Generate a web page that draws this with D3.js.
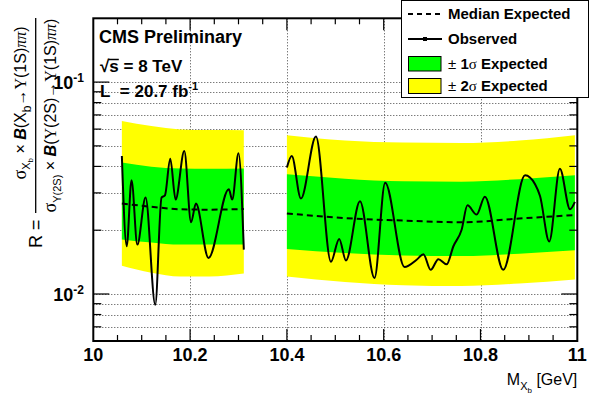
<!DOCTYPE html>
<html>
<head>
<meta charset="utf-8">
<script src="https://cdn.jsdelivr.net/npm/d3@7"></script>
<style>
body { margin: 0; background: #fff; }
svg { font-family: "Liberation Sans", Arial, Helvetica, sans-serif; }
</style>
</head>
<body>
<div id="chart"></div>
<script>
// ---- data ----
// expected bands, left mass window
const bandMassLeft = [10.059, 10.12, 10.18, 10.24, 10.311];
const yellowHiLeft = [0.0656, 0.0620, 0.0598, 0.0594, 0.0593];
const greenHiLeft  = [0.0417, 0.0399, 0.0391, 0.0390, 0.0391];
const medianLeft   = [0.0267, 0.0258, 0.0251, 0.0250, 0.0252];
const greenLoLeft  = [0.0181, 0.0175, 0.0171, 0.0171, 0.0171];
const yellowLoLeft = [0.0136, 0.0126, 0.0121, 0.0121, 0.0125];

// expected bands, right mass window
const bandMassRight = [10.400, 10.52, 10.64, 10.76, 10.88, 10.995];
const yellowHiRight = [0.0561, 0.0530, 0.0518, 0.0516, 0.0530, 0.0561];
const greenHiRight  = [0.0367, 0.0350, 0.0340, 0.0339, 0.0348, 0.0363];
const medianRight   = [0.0240, 0.0228, 0.0222, 0.0218, 0.0227, 0.0236];
const greenLoRight  = [0.0163, 0.0156, 0.0152, 0.0151, 0.0155, 0.0161];
const yellowLoRight = [0.0121, 0.0114, 0.0110, 0.0109, 0.0112, 0.0117];

// observed limit
const obsMassLeft = [10.059, 10.069, 10.079, 10.091, 10.108, 10.128, 10.141, 10.148, 10.159,
    10.170, 10.188, 10.202, 10.212, 10.238, 10.280, 10.287, 10.300, 10.311];
const obsLeft = [0.0448, 0.0168, 0.0344, 0.0171, 0.0285, 0.0089, 0.0285, 0.0292, 0.0435,
    0.0279, 0.0473, 0.0218, 0.0267, 0.0148, 0.0312, 0.0279, 0.0461, 0.0162];

const obsMassRight = [10.400, 10.410, 10.429, 10.460, 10.491, 10.508, 10.522, 10.551, 10.581,
    10.603, 10.643, 10.668, 10.682, 10.697, 10.713, 10.730, 10.744, 10.761, 10.773, 10.792,
    10.809, 10.847, 10.892, 10.913, 10.923, 10.942, 10.964, 10.985, 10.995];
const obsRight = [0.0395, 0.0448, 0.0282, 0.0553, 0.0142, 0.0182, 0.0144, 0.0274, 0.0119,
    0.0335, 0.0134, 0.0145, 0.0154, 0.0130, 0.0146, 0.0138, 0.0168, 0.0201, 0.0262, 0.0237,
    0.0288, 0.0130, 0.0363, 0.0329, 0.0290, 0.0177, 0.0390, 0.0251, 0.0272];

const xDomain = [10, 11];
const yDomain = [0.006, 0.2];
const legendItems = ["Median Expected", "Observed", "1", "2"];

// ---- drawing ----
const width = 589, height = 396;
const plot = { left: 93.3, right: 577.3, top: 18.3, bottom: 341 };

const svg = d3.select("#chart").append("svg")
    .attr("width", width)
    .attr("height", height);

const x = d3.scaleLinear().domain(xDomain).range([plot.left, plot.right]);
const y = d3.scaleLog().domain(yDomain).range([plot.bottom, plot.top]);

svg.append("defs").append("clipPath").attr("id", "plotclip")
    .append("rect")
    .attr("x", plot.left).attr("y", plot.top)
    .attr("width", plot.right - plot.left).attr("height", plot.bottom - plot.top);

// grid
const yGrid = y.ticks().filter(function (v) { return v > yDomain[0] * 1.01; });
const xMajor = x.ticks(5);
const xMinor = x.ticks(20);

const grid = svg.append("g").attr("stroke", "#444").attr("stroke-width", 1)
    .attr("stroke-dasharray", "1,2");
grid.selectAll(".gy").data(yGrid).enter().append("line")
    .attr("x1", plot.left).attr("x2", plot.right)
    .attr("y1", function (d) { return Math.round(y(d)) + 0.5; })
    .attr("y2", function (d) { return Math.round(y(d)) + 0.5; });
grid.selectAll(".gx").data(xMajor.slice(1, -1)).enter().append("line")
    .attr("y1", plot.top).attr("y2", plot.bottom)
    .attr("x1", function (d) { return Math.round(x(d)) + 0.5; })
    .attr("x2", function (d) { return Math.round(x(d)) + 0.5; });

// bands
function zip(m, lo, hi) {
    return m.map(function (v, i) { return { m: v, lo: lo[i], hi: hi[i] }; });
}
const area = d3.area()
    .x(function (d) { return x(d.m); })
    .y0(function (d) { return y(d.lo); })
    .y1(function (d) { return y(d.hi); })
    .curve(d3.curveMonotoneX);
const line = d3.line()
    .x(function (d) { return x(d.m); })
    .y(function (d) { return y(d.hi); })
    .curve(d3.curveMonotoneX);

const bands = svg.append("g").attr("clip-path", "url(#plotclip)");
[
    [bandMassLeft, yellowLoLeft, yellowHiLeft, greenLoLeft, greenHiLeft, medianLeft],
    [bandMassRight, yellowLoRight, yellowHiRight, greenLoRight, greenHiRight, medianRight]
].forEach(function (s) {
    bands.append("path").attr("d", area(zip(s[0], s[1], s[2]))).attr("fill", "#ffff00");
    bands.append("path").attr("d", area(zip(s[0], s[3], s[4]))).attr("fill", "#00ff00");
    bands.append("path").attr("d", line(zip(s[0], s[5], s[5])))
        .attr("fill", "none").attr("stroke", "#000").attr("stroke-width", 2)
        .attr("stroke-dasharray", "6,4");
});

[[obsMassLeft, obsLeft], [obsMassRight, obsRight]].forEach(function (s) {
    bands.append("path").attr("d", line(zip(s[0], s[1], s[1])))
        .attr("fill", "none").attr("stroke", "#000").attr("stroke-width", 2)
        .attr("stroke-linejoin", "round");
});

// frame and ticks
const axes = svg.append("g").attr("stroke", "#000");
axes.append("rect")
    .attr("x", plot.left).attr("y", plot.top)
    .attr("width", plot.right - plot.left).attr("height", plot.bottom - plot.top)
    .attr("fill", "none").attr("stroke-width", 2);

function isDecade(v) { return Math.abs(Math.log10(v) - Math.round(Math.log10(v))) < 1e-6; }
const yTicks = y.ticks().filter(function (v) { return v > yDomain[0] * 1.01 && v < yDomain[1] * 0.99; });
axes.selectAll(".tyl").data(yTicks).enter().append("line")
    .attr("x1", plot.left).attr("x2", function (d) { return plot.left + (isDecade(d) ? 16 : 8); })
    .attr("y1", function (d) { return y(d); }).attr("y2", function (d) { return y(d); })
    .attr("stroke-width", 1.2);
axes.selectAll(".tyr").data(yTicks).enter().append("line")
    .attr("x1", plot.right).attr("x2", function (d) { return plot.right - (isDecade(d) ? 16 : 8); })
    .attr("y1", function (d) { return y(d); }).attr("y2", function (d) { return y(d); })
    .attr("stroke-width", 1.2);

const xTicks = xMinor.slice(1, -1);
function isMajorX(v) { return xMajor.some(function (m) { return Math.abs(m - v) < 1e-6; }); }
axes.selectAll(".txb").data(xTicks).enter().append("line")
    .attr("x1", function (d) { return x(d); }).attr("x2", function (d) { return x(d); })
    .attr("y1", plot.bottom).attr("y2", function (d) { return plot.bottom - (isMajorX(d) ? 12 : 6); })
    .attr("stroke-width", 1.2);
axes.selectAll(".txt").data(xTicks).enter().append("line")
    .attr("x1", function (d) { return x(d); }).attr("x2", function (d) { return x(d); })
    .attr("y1", plot.top).attr("y2", function (d) { return plot.top + (isMajorX(d) ? 12 : 6); })
    .attr("stroke-width", 1.2);

// tick labels
svg.append("g").selectAll("text").data(xMajor).enter().append("text")
    .attr("x", function (d) { return x(d); })
    .attr("y", 361)
    .attr("text-anchor", "middle")
    .attr("font-size", 18).attr("font-weight", "bold")
    .text(function (d) { return d3.format("~g")(d); });

const yLab = svg.append("g").selectAll("text")
    .data(yTicks.filter(isDecade)).enter().append("text")
    .attr("x", 84)
    .attr("y", function (d) { return y(d) + 7; })
    .attr("text-anchor", "end")
    .attr("font-size", 18).attr("font-weight", "bold");
yLab.append("tspan").text("10");
yLab.append("tspan").attr("dy", -7).attr("font-size", 12)
    .text(function (d) { return "-" + Math.round(-Math.log10(d)); });

// axis titles
const xt = svg.append("text").attr("x", plot.right).attr("y", 385)
    .attr("text-anchor", "end").attr("font-size", 16);
xt.append("tspan").text("M");
xt.append("tspan").attr("dy", 5).attr("font-size", 11).text("X");
xt.append("tspan").attr("dy", 3).attr("font-size", 8).text("b");
xt.append("tspan").attr("dy", -8).text(" [GeV]");

const yt = svg.append("g").attr("transform", "rotate(-90)");
yt.append("text").attr("x", -248).attr("y", 42).attr("font-size", 18).text("R =");
yt.append("line").attr("x1", -213).attr("x2", -18).attr("y1", 35.7).attr("y2", 35.7)
    .attr("stroke", "#000").attr("stroke-width", 1.3);

const serif = "'Liberation Serif', 'DejaVu Serif', serif";
const num = yt.append("text").attr("x", -103).attr("y", 26)
    .attr("text-anchor", "middle").attr("font-size", 16);
num.append("tspan").attr("font-family", serif).attr("font-size", 18).text("σ");
num.append("tspan").attr("dy", 4).attr("font-size", 11).text("X");
num.append("tspan").attr("dy", 3).attr("font-size", 8).text("b");
num.append("tspan").attr("dy", -7).text(" × ");
num.append("tspan").attr("font-weight", "bold").attr("font-style", "italic").text("B");
num.append("tspan").text("(X");
num.append("tspan").attr("dy", 5).attr("font-size", 12).text("b");
num.append("tspan").attr("dy", -5).text("→");
num.append("tspan").attr("font-family", serif).text("Υ");
num.append("tspan").text("(1S)");
num.append("tspan").attr("font-family", serif).attr("font-style", "italic").text("ππ");
num.append("tspan").text(")");

const den = yt.append("text").attr("x", -115.5).attr("y", 56)
    .attr("text-anchor", "middle").attr("font-size", 16);
den.append("tspan").attr("font-family", serif).attr("font-size", 18).text("σ");
den.append("tspan").attr("dy", 5).attr("font-size", 11).text("Υ(2S)");
den.append("tspan").attr("dy", -5).text(" × ");
den.append("tspan").attr("font-weight", "bold").attr("font-style", "italic").text("B");
den.append("tspan").text("(");
den.append("tspan").attr("font-family", serif).text("Υ");
den.append("tspan").text("(2S)→");
den.append("tspan").attr("font-family", serif).text("Υ");
den.append("tspan").text("(1S)");
den.append("tspan").attr("font-family", serif).attr("font-style", "italic").text("ππ");
den.append("tspan").text(")");

// CMS text
svg.append("text").attr("x", 99).attr("y", 43)
    .attr("font-size", 18).attr("font-weight", "bold").text("CMS Preliminary");
const sqrtS = svg.append("text").attr("x", 100).attr("y", 72)
    .attr("font-size", 17).attr("font-weight", "bold").text("√s = 8 TeV");
const sExt = sqrtS.node().getExtentOfChar(1);
const rExt = sqrtS.node().getExtentOfChar(0);
svg.append("line")
    .attr("x1", rExt.x + rExt.width - 1).attr("x2", sExt.x + sExt.width)
    .attr("y1", rExt.y + 2.5).attr("y2", rExt.y + 2.5)
    .attr("stroke", "#000").attr("stroke-width", 1.5);
const lumi = svg.append("text").attr("x", 100).attr("y", 97)
    .attr("font-size", 17).attr("font-weight", "bold");
lumi.append("tspan").text("L\u00a0\u00a0= 20.7 fb");
lumi.append("tspan").attr("dy", -7).attr("font-size", 11).text("-1");

// legend
const leg = svg.append("g");
leg.append("rect").attr("x", 401.5).attr("y", 0.5).attr("width", 187).attr("height", 97)
    .attr("fill", "#fff").attr("stroke", "#000");
const rowY = [14, 39, 63.5, 86];
leg.append("line").attr("x1", 408).attr("x2", 442).attr("y1", rowY[0]).attr("y2", rowY[0])
    .attr("stroke", "#000").attr("stroke-width", 1.8).attr("stroke-dasharray", "5,4");
leg.append("line").attr("x1", 408).attr("x2", 442).attr("y1", rowY[1]).attr("y2", rowY[1])
    .attr("stroke", "#000").attr("stroke-width", 2);
leg.append("rect").attr("x", 423).attr("y", rowY[1] - 2).attr("width", 4).attr("height", 4)
    .attr("fill", "#000");
leg.append("rect").attr("x", 408.5).attr("y", 56.5).attr("width", 32.5).attr("height", 14.5)
    .attr("fill", "#00ff00").attr("stroke", "#000");
leg.append("rect").attr("x", 408.5).attr("y", 78.5).attr("width", 32.5).attr("height", 15)
    .attr("fill", "#ffff00").attr("stroke", "#000");

const legText = leg.selectAll(".lt").data(legendItems).enter().append("text")
    .attr("x", 448)
    .attr("y", function (d, i) { return rowY[i] + 5; })
    .attr("font-size", 15).attr("font-weight", "bold");
legText.filter(function (d, i) { return i < 2; }).text(function (d) { return d; });
const sig = legText.filter(function (d, i) { return i >= 2; });
sig.append("tspan").attr("font-weight", "normal").text("± ");
sig.append("tspan").text(function (d) { return d; });
sig.append("tspan").attr("font-weight", "normal").attr("font-family", serif).text("σ");
sig.append("tspan").text(" Expected");
</script>
</body>
</html>
